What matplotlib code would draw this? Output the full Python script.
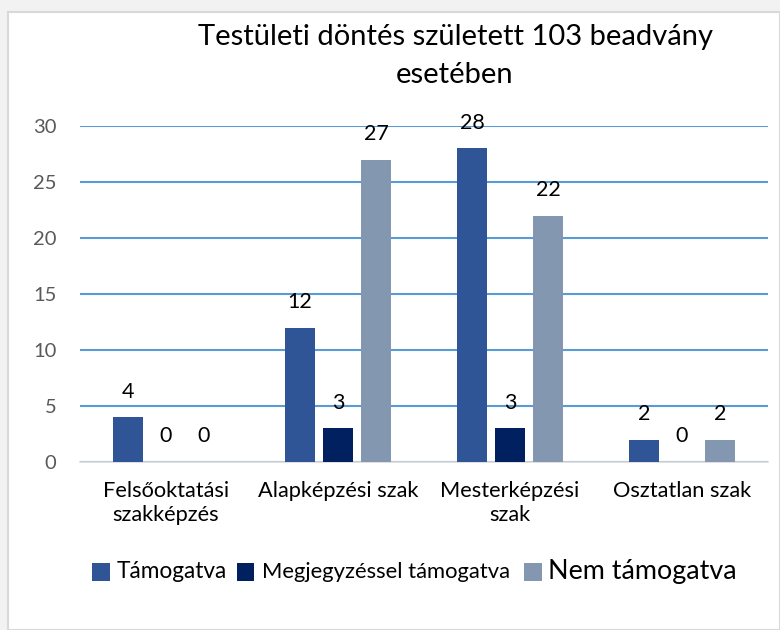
import matplotlib
matplotlib.use("Agg")
import matplotlib.pyplot as plt
from matplotlib.patches import Rectangle
import numpy as np

categories = ["Felsőoktatási\nszakképzés", "Alapképzési szak", "Mesterképzési\nszak", "Osztatlan szak"]
series_names = ["Támogatva", "Megjegyzéssel támogatva", "Nem támogatva"]
tamogatva = [4, 12, 28, 2]
megjegyzessel = [0, 3, 3, 0]
nem_tamogatva = [0, 27, 22, 2]
yticks = [0, 5, 10, 15, 20, 25, 30]
title = "Testületi döntés született 103 beadvány\nesetében"

colors = ["#2F5597", "#002060", "#8497B0"]

plt.rcParams['font.family'] = ['Lato', 'DejaVu Sans']

W, H = 780, 630
fig = plt.figure(figsize=(W/100, H/100), dpi=100)
fig.patch.set_facecolor("#f2f2f2")
fig.add_artist(Rectangle((8/W, 0), 1 - 8/W, 1 - 12/H, transform=fig.transFigure,
                         facecolor="white", edgecolor="#d9d9d9", linewidth=1.5, zorder=0))

ax = fig.add_axes([80/W, (H-462)/H, (768-80)/W, (462-126)/H])
ax.set_facecolor("none")
x = np.arange(len(categories))
bw = 0.174
off = 0.221
for i, (vals, c) in enumerate(zip([tamogatva, megjegyzessel, nem_tamogatva], colors)):
    pos = x + (i - 1) * off
    ax.bar(pos, vals, width=bw, color=c, zorder=3)
    for p, v in zip(pos, vals):
        ax.annotate(str(v), (p, v), xytext=(0, 18.5), textcoords="offset points",
                    ha="center", va="center", fontsize=15.5, color="#000000",
                    annotation_clip=False)

ax.set_xlim(-0.5, 3.5)
ax.set_ylim(0, 30)
ax.set_yticks(yticks)
ax.yaxis.grid(True, color="#5B9BD5", linewidth=1.5, zorder=0)
ax.set_axisbelow(True)
for s in ["top", "right", "left"]:
    ax.spines[s].set_visible(False)
ax.spines["bottom"].set_color("#d9d9d9")
ax.spines["bottom"].set_linewidth(1.2)
ax.tick_params(axis="y", length=0, pad=17, labelsize=14.5, labelcolor="#595959")
ax.tick_params(axis="x", length=0, pad=14, labelsize=15.7, labelcolor="#000000")
ax.set_xticks(x)
ax.set_xticklabels(categories, linespacing=1.25)

fig.text(455/W, 1 - 56/H, title, ha="center", va="center", fontsize=21, linespacing=1.55)

# legend drawn manually
sq_x = [92, 237, 524]
tx_x = [117, 262, 548]
sizes = [16.3, 15.8, 19.4]
ly = 572
for sx, txx, name, c, fs in zip(sq_x, tx_x, series_names, colors, sizes):
    fig.add_artist(Rectangle((sx/W, 1 - (ly + 9)/H), 17.5/W, 18/H, transform=fig.transFigure,
                             facecolor=c, edgecolor="none"))
    fig.text(txx/W, 1 - ly/H, name, ha="left", va="center", fontsize=fs, color="#000000")

fig.savefig("out.png", dpi=100, facecolor=fig.get_facecolor())
